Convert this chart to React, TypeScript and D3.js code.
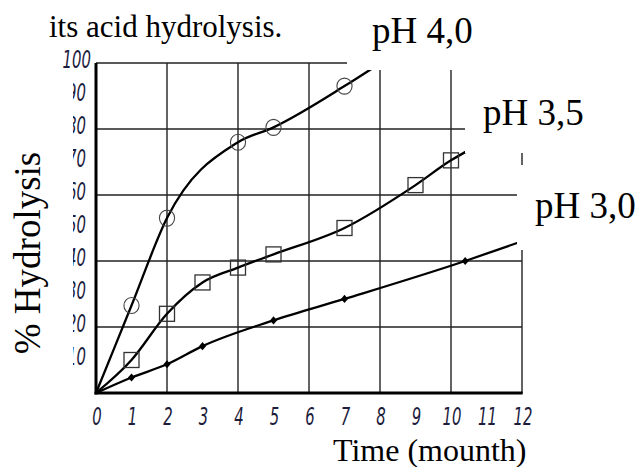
import React from "react";
import * as d3 from "d3";

// ---- data ----
const xTicks = [0, 1, 2, 3, 4, 5, 6, 7, 8, 9, 10, 11, 12];
const yTicks = [10, 20, 30, 40, 50, 60, 70, 80, 90, 100];
const xGrid = [2, 4, 6, 8, 10];
const yGrid = [20, 40, 60, 80];

// pH 4,0 (circles)
const ph40Months = [1, 2, 4, 5, 7];
const ph40Values = [26.5, 53, 76, 80.5, 93];
const ph40Tail = [7.8, 98.5];
// pH 3,5 (squares)
const ph35Months = [1, 2, 3, 4, 5, 7, 9, 10];
const ph35Values = [10, 24, 33.5, 38, 42, 50, 63, 70.5];
const ph35Tail = [10.5, 73.6];
// pH 3,0 (diamonds)
const ph30Months = [1, 2, 3, 5, 7, 10.4];
const ph30Values = [4.7, 8.7, 14.2, 22, 28.5, 40];
const ph30Tail = [11.9, 45.6];

const W = 640;
const H = 467;

const x = d3.scaleLinear().domain([0, 12]).range([96, 522]);
const y = d3.scaleLinear().domain([0, 100]).range([393, 63]);

const line = d3
  .line<[number, number]>()
  .x((d) => x(d[0]))
  .y((d) => y(d[1]))
  .curve(d3.curveMonotoneX);

function pts(ms: number[], vs: number[], tail: number[]): [number, number][] {
  const p: [number, number][] = [[0, 0]];
  ms.forEach((m, i) => p.push([m, vs[i]]));
  p.push([tail[0], tail[1]]);
  return p;
}

const diamond = d3.symbol().type(d3.symbolDiamond).size(30)() as string;

const serif = "Liberation Serif, Tinos, Times New Roman, serif";
const tickFont = "DejaVu Sans, sans-serif";
const tickColor = "#1c1c3c";

export default function App() {
  return (
    <svg
      width={W}
      height={H}
      style={{ position: "absolute", left: 0, top: 0, background: "#fff" }}
    >
      <rect x={0} y={0} width={W} height={H} fill="#fff" />

      {/* grid */}
      {xGrid.map((t) => (
        <line key={"vx" + t} x1={x(t)} x2={x(t)} y1={y(0)} y2={y(100)} stroke="#222" strokeWidth={1.4} />
      ))}
      {yGrid.map((t) => (
        <line key={"hy" + t} x1={x(0)} x2={x(12)} y1={y(t)} y2={y(t)} stroke="#222" strokeWidth={1.4} />
      ))}
      <line x1={x(0)} x2={x(12)} y1={y(100)} y2={y(100)} stroke="#222" strokeWidth={1.4} />
      <line x1={x(12)} x2={x(12)} y1={y(0)} y2={y(100)} stroke="#222" strokeWidth={1.4} />
      <line x1={x(0)} x2={x(0)} y1={y(0) + 1.5} y2={y(100)} stroke="#000" strokeWidth={3} />
      <line x1={x(0) - 1.5} x2={x(12) + 0.7} y1={y(0)} y2={y(0)} stroke="#000" strokeWidth={3} />

      {/* curves */}
      {[
        pts(ph40Months, ph40Values, ph40Tail),
        pts(ph35Months, ph35Values, ph35Tail),
        pts(ph30Months, ph30Values, ph30Tail),
      ].map((p, i) => (
        <path key={"c" + i} d={line(p) || ""} fill="none" stroke="#000" strokeWidth={2.3} />
      ))}

      {/* markers */}
      {ph40Months.map((m, i) => (
        <ellipse key={"o" + i} cx={x(m)} cy={y(ph40Values[i])} rx={7.6} ry={8} fill="none" stroke="#444" strokeWidth={1.1} />
      ))}
      {ph35Months.map((m, i) => (
        <rect key={"s" + i} x={x(m) - 7.5} y={y(ph35Values[i]) - 7.5} width={15} height={15} fill="none" stroke="#333" strokeWidth={1.3} />
      ))}
      {ph30Months.map((m, i) => (
        <path key={"d" + i} d={diamond} transform={`translate(${x(m)},${y(ph30Values[i])}) scale(1.2,0.8)`} fill="#000" />
      ))}

      {/* white label boxes covering the plot */}
      <rect x={347} y={0} width={W - 347} height={70} fill="#fff" />
      <rect x={465} y={70} width={W - 465} height={83} fill="#fff" />
      <rect x={517} y={165} width={W - 517} height={85} fill="#fff" />

      {/* x tick labels */}
      {xTicks.map((t) => (
        <g key={"xt" + t} transform={`translate(${x(t) + 1},${425}) scale(0.62,1)`}>
          <text textAnchor="middle" fontFamily={tickFont} fontStyle="italic" fontSize={24} fill={tickColor}>
            {t}
          </text>
        </g>
      ))}
      {/* y tick labels */}
      {yTicks.map((t) => (
        <g key={"yt" + t} transform={`translate(${t === 100 ? 91 : 86},${y(t) + 5}) scale(0.62,1)`}>
          <text textAnchor="end" fontFamily={tickFont} fontStyle="italic" fontSize={24} fill={tickColor}>
            {t}
          </text>
        </g>
      ))}
      {/* scan mask over the left part of the y labels */}
      <rect x={50} y={76} width={23} height={300} fill="#fff" />

      {/* texts */}
      <text x={49} y={37} fontFamily={serif} fontSize={31} fill="#000">
        its acid hydrolysis.
      </text>
      <text x={372} y={43} fontFamily={serif} fontSize={37} fill="#000">
        pH 4,0
      </text>
      <text x={483} y={125} fontFamily={serif} fontSize={37} fill="#000">
        pH 3,5
      </text>
      <text x={535} y={218} fontFamily={serif} fontSize={37} fill="#000">
        pH 3,0
      </text>
      <text
        transform="translate(40,253) rotate(-90)"
        textAnchor="middle"
        fontFamily={serif}
        fontSize={37}
        fill="#000"
      >
        % Hydrolysis
      </text>
      <text x={333} y={461} fontFamily={serif} fontSize={32} fill="#000">
        Time (mounth)
      </text>
    </svg>
  );
}
